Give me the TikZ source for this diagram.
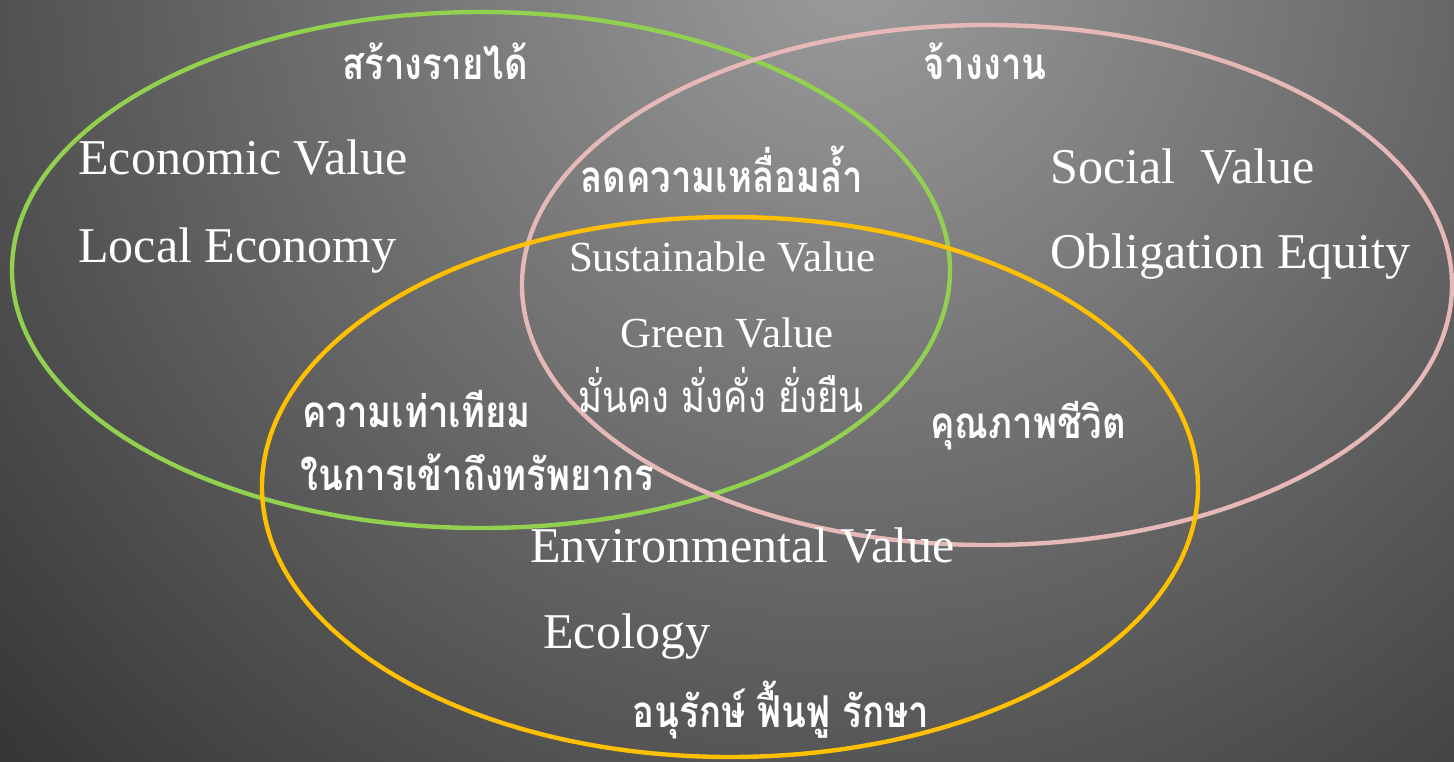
\documentclass[tikz,border=0pt]{standalone}
\usepackage{fontspec}
\setmainfont{Liberation Serif}
\newfontfamily\thaifont[Script=Thai,FakeStretch=0.83]{Loma}
\definecolor{econgreen}{HTML}{92D050}
\definecolor{socialpink}{HTML}{E6B9B8}
\definecolor{envorange}{HTML}{FFC000}
\definecolor{bgtop}{HTML}{9C9C9C}
\definecolor{bgedge}{HTML}{2A2A2A}

\begin{document}
\begin{tikzpicture}
    [
    x=0.02cm, y=-0.02cm,
    ring/.style={line width=2.5pt},
    eng/.style={text=white,inner sep=0pt,font=\fontsize{28.5}{30}\selectfont},
    core/.style={text=white,inner sep=0pt,font=\fontsize{24.4}{26}\selectfont},
    thai/.style={text=white,inner sep=0pt,font=\thaifont\bfseries\fontsize{25}{28}\selectfont},
    thailight/.style={thai,font=\thaifont\fontsize{25}{28}\selectfont}
    ]
% background
\begin{scope}
\clip (0,0) rectangle (1454,761);
\fill[bgedge] (0,0) rectangle (1454,761);
\shade[inner color=bgtop,outer color=bgedge] (850,-40) circle (1300);
\end{scope}
\useasboundingbox (0,0) rectangle (1454,761);
% the three sets
\draw[ring,econgreen] (481,270) ellipse (469 and 258);
\draw[ring,socialpink] (987,285) ellipse (465 and 260);
\draw[ring,envorange] (730,487) ellipse (468 and 270);
% economic
\node[thai,anchor=base] (income) at (435,79) {สร้างรายได้};
\node[eng,anchor=base west] (econ) at (78,174) {Economic Value};
\node[eng,anchor=base west] (local) at (78,262) {Local Economy};
% social
\node[thai,anchor=base] (hire) at (985,79) {จ้างงาน};
\node[eng,anchor=base west] (social) at (1050,183) {Social\ \ Value};
\node[eng,anchor=base west] (oblig) at (1050,268) {Obligation Equity};
% overlaps
\node[thai,anchor=base] (gap) at (722,192) {ลดความเหลื่อมล้ำ};
\node[core,anchor=base] (sust) at (722,271) {Sustainable Value};
\node[core,anchor=base] (green) at (727,347) {Green Value};
\node[thailight,anchor=base] (stable) at (721,412) {มั่นคง\ มั่งคั่ง\ ยั่งยืน};
\node[thai,anchor=base west] (equal) at (302,427) {ความเท่าเทียม};
\node[thai,anchor=base west] (access) at (300,490) {ในการเข้าถึงทรัพยากร};
\node[thai,anchor=base west] (life) at (930,438) {คุณภาพชีวิต};
% environmental
\node[eng,anchor=base west] (env) at (530,562) {Environmental Value};
\node[eng,anchor=base west] (eco) at (543,648) {Ecology};
\node[thai,anchor=base] (keep) at (781,727) {อนุรักษ์ ฟื้นฟู รักษา};
\end{tikzpicture}
\end{document}
